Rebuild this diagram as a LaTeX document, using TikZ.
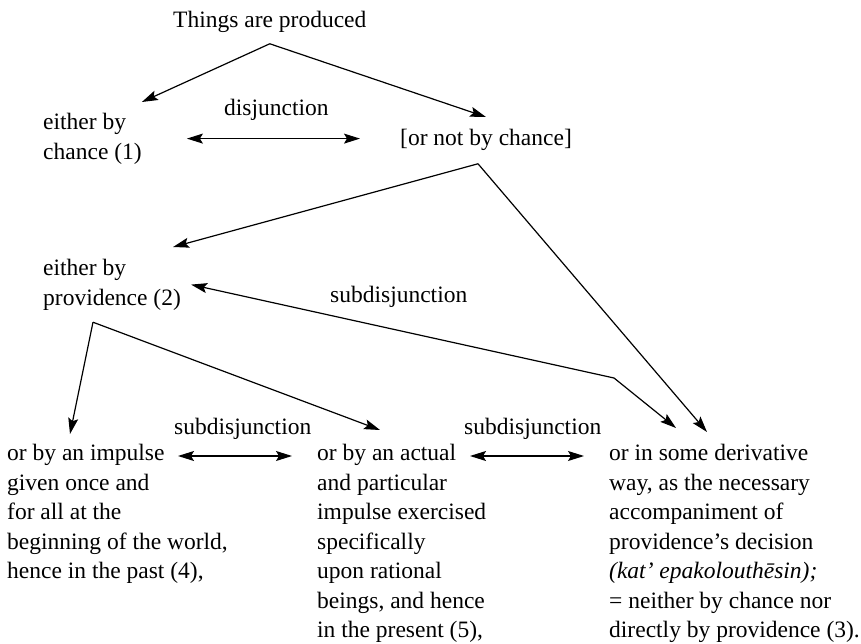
\documentclass[tikz,border=0pt]{standalone}
\usepackage{fontspec}
\setmainfont{Liberation Serif}
\usetikzlibrary{arrows.meta,positioning,calc}

\begin{document}
\begin{tikzpicture}[
  x=1pt, y=-1pt,
  every node/.style={font=\fontsize{23.5}{29.5}\selectfont},
  txt/.style={inner sep=0pt,anchor=north west,align=left},
  lbl/.style={inner sep=0pt,anchor=base west},
  arr/.style={line width=1.2pt,-{Stealth[length=16pt,width=10pt,inset=3pt]}},
  dbl/.style={line width=1.2pt,{Stealth[length=16pt,width=10pt,inset=3pt]}-{Stealth[length=16pt,width=10pt,inset=3pt]}}
]
\useasboundingbox (0,0) rectangle (861,644);
% top of the division
\node[txt] (things) at (173,11) {Things are produced};
\node[txt] (chance) at (43,113) {either by\\chance (1)};
\node[txt] (notchance) at (400,129) {[or not by chance]};
\node[lbl] (disj) at (224,116) {disjunction};
% second level
\node[txt] (prov) at (43,259) {either by\\providence (2)};
\node[lbl] (subA) at (330,302) {subdisjunction};
% bottom row
\node[txt] (impulse) at (7,444) {or by an impulse\\given once and\\for all at the\\beginning of the world,\\hence in the past (4),};
\node[txt] (actual) at (317,444) {or by an actual\\and particular\\impulse exercised\\specifically\\upon rational\\beings, and hence\\in the present (5),};
\node[txt] (deriv) at (609,444) {or in some derivative\\way, as the necessary\\accompaniment of\\providence’s decision\\\textit{(kat’ epakolouthēsin);}\\= neither by chance nor\\directly by providence (3).};
\node[lbl] (subB) at (174,434) {subdisjunction};
\node[lbl] (subC) at (464,434) {subdisjunction};

\coordinate (fork1) at ([yshift=-11pt]things.south);
\coordinate (fork2) at ([shift={(-8pt,-13pt)}]notchance.south);
\coordinate (fork3) at ([shift={(50pt,-12pt)}]prov.south west);
\coordinate (bend) at (614,378);

\draw[arr] (fork1) -- ([yshift=11pt]chance.north east);
\draw[arr] (fork1) -- ([yshift=12pt]notchance.north);
\draw[dbl,shorten <=45pt,shorten >=40pt] (chance.east) -- (chance.east -| notchance.west);

\draw[arr] (fork2) -- ([shift={(-8pt,12pt)}]prov.north east);
\draw[arr] (fork2) -- ([shift={(98pt,12pt)}]deriv.north west);
\draw[dbl] ([xshift=10pt]prov.east) -- (bend) -- ([shift={(67pt,16pt)}]deriv.north west);

\draw[arr] (fork3) -- ([shift={(63pt,10pt)}]impulse.north west);
\draw[arr] (fork3) -- ([shift={(63pt,14pt)}]actual.north west);
\draw[dbl] ([shift={(171pt,-12pt)}]impulse.north west) -- ([shift={(-25pt,-12pt)}]actual.north west);
\draw[dbl] ([shift={(153pt,-12pt)}]actual.north west) -- ([shift={(-25pt,-12pt)}]deriv.north west);
\end{tikzpicture}
\end{document}
